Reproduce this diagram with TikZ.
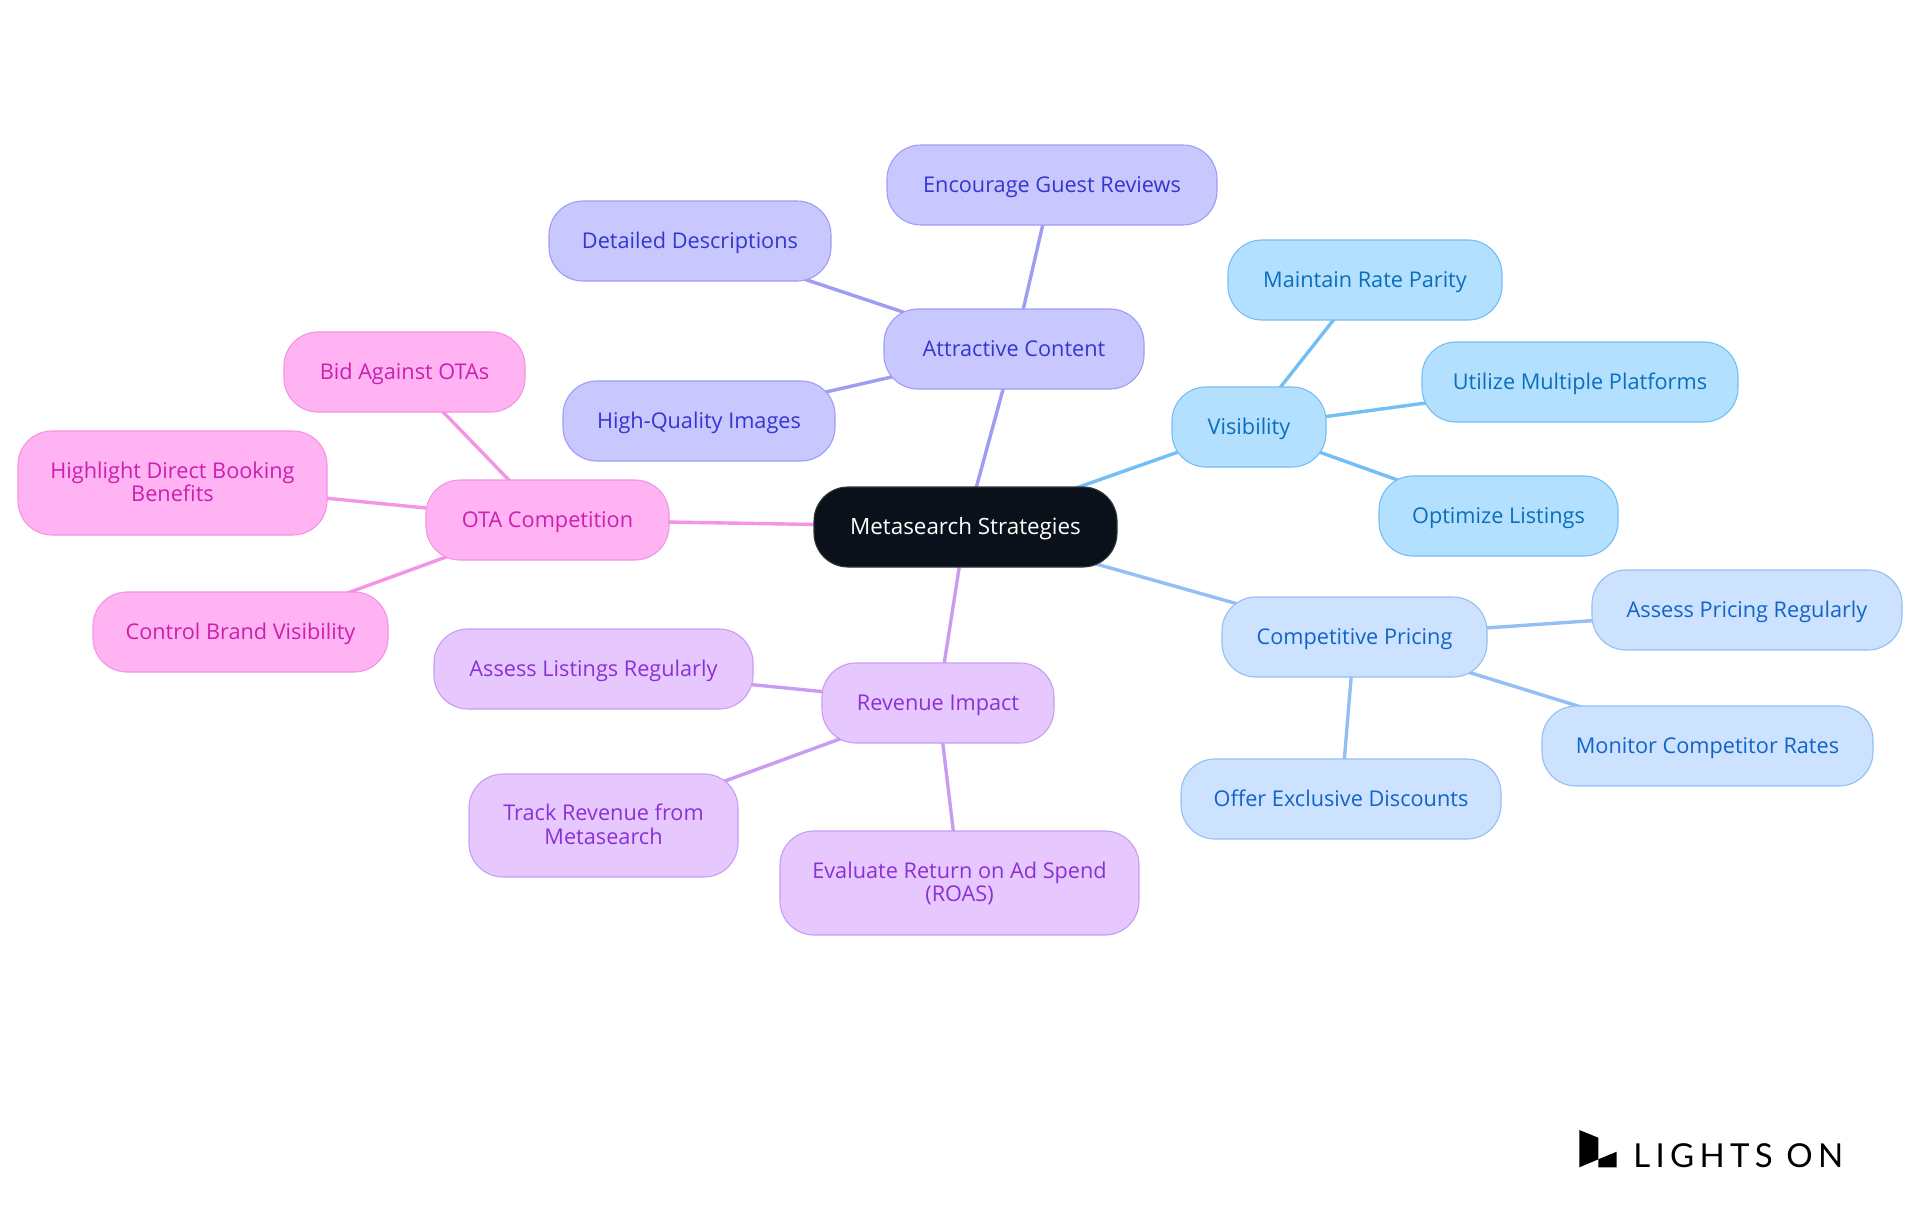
\documentclass[tikz,border=0pt]{standalone}
\usepackage{fontspec}
\setmainfont{Open Sans}
\newfontfamily\logofont[LetterSpace=16]{Lato}
\usetikzlibrary{backgrounds}
\newcommand{\lineup}{\rule{0pt}{9pt}}
\newcommand{\linedn}{\rule[-2pt]{0pt}{2pt}}
\definecolor{rootf}{HTML}{0B111A}
\definecolor{visF}{HTML}{B3E0FF}\definecolor{visL}{HTML}{73BEF3}\definecolor{visT}{HTML}{0A6EBD}
\definecolor{priF}{HTML}{CCE2FF}\definecolor{priL}{HTML}{94BFF3}\definecolor{priT}{HTML}{1264C8}
\definecolor{conF}{HTML}{C8C8FF}\definecolor{conL}{HTML}{A09CF3}\definecolor{conT}{HTML}{3535D0}
\definecolor{revF}{HTML}{E6C8FF}\definecolor{revL}{HTML}{C89CF3}\definecolor{revT}{HTML}{8B30D8}
\definecolor{otaF}{HTML}{FFB3F2}\definecolor{otaL}{HTML}{F394E4}\definecolor{otaT}{HTML}{CC1FB0}
\tikzset{
  mapbox/.style={rectangle,rounded corners=17pt,inner sep=0pt,outer sep=0pt,line width=.55pt,
    align=center,font=\fontsize{10.85pt}{11.8pt}\selectfont},
  oneline/.style={text height=9pt,text depth=2pt},
  vis/.style={mapbox,fill=visF,draw=visL,text=visT},
  pri/.style={mapbox,fill=priF,draw=priL,text=priT},
  con/.style={mapbox,fill=conF,draw=conL,text=conT},
  rev/.style={mapbox,fill=revF,draw=revL,text=revT},
  ota/.style={mapbox,fill=otaF,draw=otaL,text=otaT},
  rootbox/.style={mapbox,fill=rootf,draw=rootf!85!white,text=white,font=\fontsize{11.2pt}{11.8pt}\selectfont},
  visl/.style={draw=visL,line width=1.7pt},
  pril/.style={draw=priL,line width=1.7pt},
  conl/.style={draw=conL,line width=1.7pt},
  revl/.style={draw=revL,line width=1.7pt},
  otal/.style={draw=otaL,line width=1.7pt},
}
\begin{document}
\begin{tikzpicture}[x=0.5pt,y=-0.5pt]
\useasboundingbox (0,0) rectangle (1920,1215);
\node[rootbox,oneline,minimum width=151.5pt,minimum height=40pt] (root) at (965.5,527) {Metasearch Strategies};

\node[vis,oneline,minimum width=77pt,minimum height=40pt] (v) at (1249,427) {Visibility};
\node[vis,oneline,minimum width=137pt,minimum height=40pt] (v1) at (1365,280) {Maintain Rate Parity};
\node[vis,oneline,minimum width=158pt,minimum height=40pt] (v2) at (1580,382) {Utilize Multiple Platforms};
\node[vis,oneline,minimum width=119.5pt,minimum height=40pt] (v3) at (1498.5,516) {Optimize Listings};

\node[pri,oneline,minimum width=132.5pt,minimum height=40pt] (p) at (1354.5,637) {Competitive Pricing};
\node[pri,oneline,minimum width=155pt,minimum height=40pt] (p1) at (1747,610) {Assess Pricing Regularly};
\node[pri,oneline,minimum width=165.5pt,minimum height=40pt] (p2) at (1707.5,746) {Monitor Competitor Rates};
\node[pri,oneline,minimum width=160pt,minimum height=40pt] (p3) at (1341,799) {Offer Exclusive Discounts};

\node[con,oneline,minimum width=130pt,minimum height=40pt] (c) at (1014,349) {Attractive Content};
\node[con,oneline,minimum width=165pt,minimum height=40pt] (c1) at (1052,185) {Encourage Guest Reviews};
\node[con,oneline,minimum width=141pt,minimum height=40pt] (c2) at (690,241) {Detailed Descriptions};
\node[con,oneline,minimum width=136pt,minimum height=40pt] (c3) at (699,421) {High-Quality Images};

\node[ota,oneline,minimum width=121.5pt,minimum height=40pt] (o) at (547.5,520) {OTA Competition};
\node[ota,oneline,minimum width=120.5pt,minimum height=40pt] (o1) at (404.5,372) {Bid Against OTAs};
\node[ota,minimum width=154.5pt,minimum height=52pt] (o2) at (172.5,483) {\lineup Highlight Direct Booking\\Benefits\linedn};
\node[ota,oneline,minimum width=147.5pt,minimum height=40pt] (o3) at (240.5,632) {Control Brand Visibility};

\node[rev,oneline,minimum width=116pt,minimum height=40pt] (r) at (938,703) {Revenue Impact};
\node[rev,oneline,minimum width=159.5pt,minimum height=40pt] (r1) at (593.5,669) {Assess Listings Regularly};
\node[rev,minimum width=134.5pt,minimum height=51.5pt] (r2) at (603.5,825.5) {\lineup Track Revenue from\\Metasearch\linedn};
\node[rev,minimum width=179.5pt,minimum height=52pt] (r3) at (959.5,883) {\lineup Evaluate Return on Ad Spend\\(ROAS)\linedn};

\begin{scope}[on background layer]
\draw[visl] (root.center)--(v.center) (v.center)--(v1.center) (v.center)--(v2.center) (v.center)--(v3.center);
\draw[pril] (root.center)--(p.center) (p.center)--(p1.center) (p.center)--(p2.center) (p.center)--(p3.center);
\draw[conl] (root.center)--(c.center) (c.center)--(c1.center) (c.center)--(c2.center) (c.center)--(c3.center);
\draw[otal] (root.center)--(o.center) (o.center)--(o1.center) (o.center)--(o2.center) (o.center)--(o3.center);
\draw[revl] (root.center)--(r.center) (r.center)--(r1.center) (r.center)--(r2.center) (r.center)--(r3.center);
\end{scope}

\fill[black] (1579.3,1130) -- (1598.3,1137.7) -- (1598.3,1159.3) -- (1579.3,1167.3) -- cycle;
\fill[black] (1598.3,1159.3) -- (1616.7,1151.7) -- (1616.7,1167.3) -- (1598.3,1167.3) -- cycle;
\node[anchor=base west,inner sep=0pt,text=black,font=\logofont\fontsize{16.5pt}{18pt}\selectfont] (logo) at (1633,1167) {LIGHTS ON};
\end{tikzpicture}
\end{document}
